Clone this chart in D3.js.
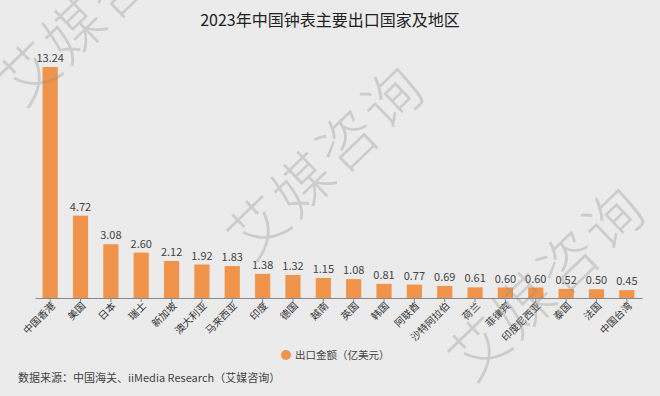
<!DOCTYPE html>
<html><head><meta charset="utf-8">
<script src="https://cdn.jsdelivr.net/npm/d3@7"></script>
<style>html,body{margin:0;padding:0;background:#ebebeb;}svg{display:block;font-family:"Noto Sans CJK SC","Noto Sans",sans-serif;}</style>
</head><body>
<svg id="c" width="660" height="396"></svg>
<script>
const title = "2023年中国钟表主要出口国家及地区";
const categories = ["中国香港","美国","日本","瑞士","新加坡","澳大利亚","马来西亚","印度","德国","越南","英国","韩国","阿联酋","沙特阿拉伯","荷兰","菲律宾","印度尼西亚","泰国","法国","中国台湾"];
const values = [13.24,4.72,3.08,2.60,2.12,1.92,1.83,1.38,1.32,1.15,1.08,0.81,0.77,0.69,0.61,0.60,0.60,0.52,0.50,0.45];
const seriesName = "出口金额（亿美元）";
const source = "数据来源：中国海关、iiMedia Research（艾媒咨询）";
const watermark = "艾媒咨询";

const svg = d3.select("#c");
svg.append("rect").attr("width",660).attr("height",396).attr("fill","#ebebeb");

const x = d3.scaleBand().domain(categories).range([35,642]).paddingInner(0.5).paddingOuter(0.25);
const y = d3.scaleLinear().domain([0,13.24]).range([298,67]);

svg.append("text").attr("x",330).attr("y",26).attr("text-anchor","middle")
  .attr("font-size",16).attr("fill","#222").attr("font-weight",400).text(title);

svg.selectAll("rect.bar").data(values).join("rect").attr("class","bar")
  .attr("x",(d,i)=>x(categories[i])).attr("width",x.bandwidth())
  .attr("y",d=>y(d)).attr("height",d=>y(0)-y(d)).attr("fill","#f0944b");

svg.selectAll("text.val").data(values).join("text").attr("class","val")
  .attr("x",(d,i)=>x(categories[i])+x.bandwidth()/2).attr("y",d=>y(d)-5)
  .attr("text-anchor","middle").attr("font-size",11).attr("fill","#444")
  .text(d=>d.toFixed(2));

const ax = svg.append("g").attr("transform",`translate(0,${y(0)})`)
  .call(d3.axisBottom(x).tickSize(4).tickSizeOuter(0));
ax.select(".domain").attr("stroke","#888");
ax.selectAll(".tick line").attr("stroke","#888");
ax.selectAll(".tick text").attr("font-size",10).attr("fill","#333")
  .attr("font-family","Noto Sans CJK SC")
  .attr("text-anchor","end").attr("dx","-0.2em").attr("dy","0.3em")
  .attr("transform","rotate(-45)");

svg.append("circle").attr("cx",286).attr("cy",355).attr("r",5).attr("fill","#f0944b");
svg.append("text").attr("x",295).attr("y",359).attr("font-size",10.5).attr("fill","#444").text(seriesName);

svg.append("text").attr("x",18).attr("y",382).attr("font-size",11).attr("fill","#444").text(source);

const wm = [[98,8],[327,162],[548,283]];
svg.selectAll("text.wm").data(wm).join("text").attr("class","wm")
  .attr("transform",d=>`translate(${d[0]},${d[1]}) rotate(-44)`)
  .attr("text-anchor","middle").attr("dy","0.35em")
  .attr("font-size",58).attr("letter-spacing",4).attr("font-weight",300)
  .attr("fill","rgba(140,140,140,0.32)").text(watermark);
</script>
</body></html>
